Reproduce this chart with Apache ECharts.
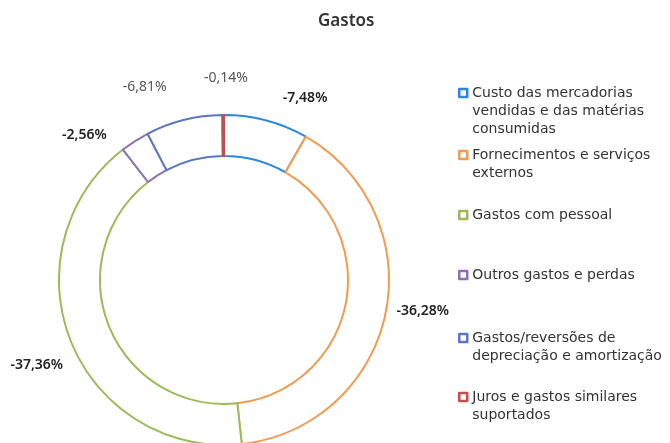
<!DOCTYPE html>
<html>
<head>
<meta charset="utf-8">
<script src="https://cdn.jsdelivr.net/npm/echarts@6/dist/echarts.min.js"></script>
<style>
html,body{margin:0;padding:0;background:#fff;}
#c{width:670px;height:443px;}
</style>
</head>
<body>
<div id="c"></div>
<script>
// ---- data ----
const categories = [
  'Custo das mercadorias vendidas e das matérias consumidas',
  'Fornecimentos e serviços externos',
  'Gastos com pessoal',
  'Outros gastos e perdas',
  'Gastos/reversões de depreciação e amortização',
  'Juros e gastos similares suportados'
];
const legendLines = [
  ['Custo das mercadorias', 'vendidas e das matérias', 'consumidas'],
  ['Fornecimentos e serviços', 'externos'],
  ['Gastos com pessoal'],
  ['Outros gastos e perdas'],
  ['Gastos/reversões de', 'depreciação e amortização'],
  ['Juros e gastos similares', 'suportados']
];
const values = [-7.48, -36.28, -37.36, -2.56, -6.81, -0.14];

// ---- style ----
const colors = ['#2e86de', '#f59a4e', '#9bbb59', '#8a72b0', '#5a78c0', '#c0504d'];
const labelColor = ['#222', '#222', '#222', '#222', '#555', '#555'];
const labelWeight = [600, 600, 600, 600, 'normal', 'normal'];
const labelNudge = [[29, 14], [0, -10], [1, 9], [-30, 26], [-30, 4], [3, 1]];
const legendIconY = [93, 155, 215, 275, 338, 397];
const LH = 18;

const fmt = v => v.toFixed(2).replace('.', ',') + '%';

const seriesData = categories.map((name, i) => ({
  name: name,
  value: Math.abs(values[i]),
  itemStyle: { color: '#ffffff', borderColor: colors[i], borderWidth: 2 },
  label: { color: labelColor[i], fontWeight: labelWeight[i] }
}));

const legends = categories.map((name, i) => {
  const n = legendLines[i].length;
  return {
    orient: 'vertical',
    left: 458,
    top: legendIconY[i] - (2 * n - 1) * LH / 2,
    padding: 0,
    itemGap: 0,
    itemWidth: 8,
    itemHeight: 8,
    icon: 'rect',
    selectedMode: false,
    data: [{ name: name, itemStyle: { color: '#ffffff', borderColor: colors[i], borderWidth: 2.5 } }],
    formatter: () => new Array(n - 1).fill('').concat(legendLines[i]).join('\n'),
    textStyle: { fontFamily: 'DejaVu Sans', fontSize: 14, lineHeight: LH, color: '#333' }
  };
});

const chart = echarts.init(document.getElementById('c'), null, { renderer: 'canvas' });
chart.setOption({
  backgroundColor: '#ffffff',
  animation: false,
  title: {
    text: 'Gastos',
    left: 313,
    top: 8,
    textStyle: { fontFamily: 'Noto Sans', fontSize: 17, fontWeight: 600, color: '#333' }
  },
  legend: legends,
  series: [{
    type: 'pie',
    center: [224, 280],
    radius: [124, 165],
    startAngle: 90,
    clockwise: true,
    avoidLabelOverlap: false,
    silent: true,
    data: seriesData,
    label: {
      show: true,
      position: 'outside',
      fontFamily: 'Noto Sans',
      fontSize: 14,
      formatter: p => fmt(values[p.dataIndex])
    },
    labelLine: { show: true, length: 38, length2: 0, lineStyle: { opacity: 0, width: 0 } },
    labelLayout: function (p) {
      const pts = p.labelLinePoints;
      if (!pts) return {};
      const end = pts[pts.length - 1];
      const nd = labelNudge[p.dataIndex];
      return { x: end[0] + nd[0], y: end[1] + nd[1], align: 'center', verticalAlign: 'middle' };
    }
  }]
});
</script>
</body>
</html>
